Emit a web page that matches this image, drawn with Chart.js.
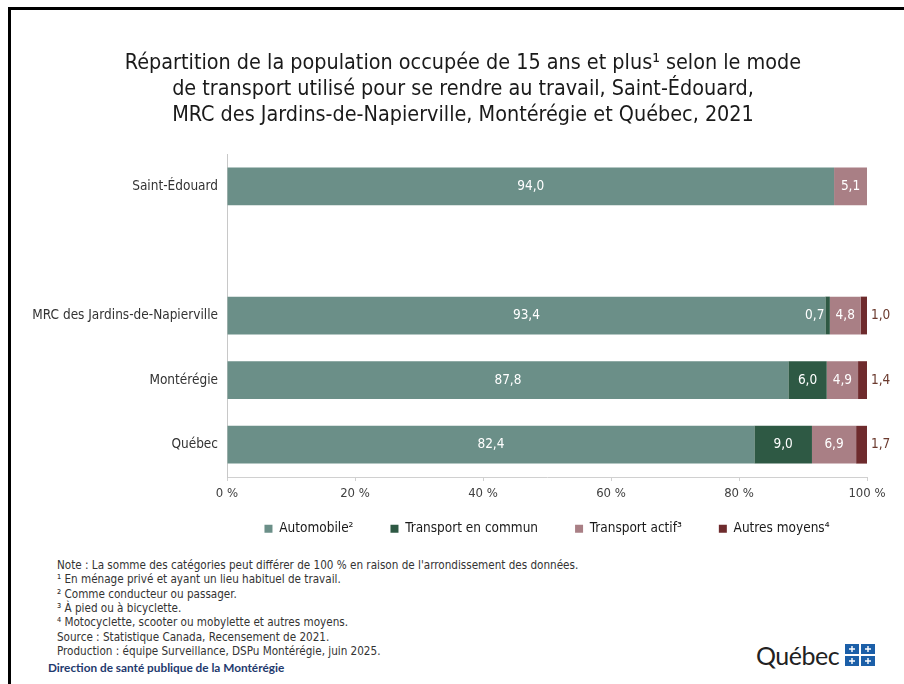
<!DOCTYPE html>
<html>
<head>
<meta charset="utf-8">
<script src="https://cdn.jsdelivr.net/npm/chart.js@4.4.1/dist/chart.umd.min.js"></script>
<style>
  body { margin: 0; width: 904px; height: 684px; background: #fff; overflow: hidden; position: relative; font-family: 'Liberation Sans Narrow', 'DejaVu Sans Condensed', sans-serif; }
  #frame { position: absolute; left: 8px; top: 7px; width: 900px; height: 690px; border-left: 3px solid #000; border-top: 3px solid #000; }
  #wrap { position: absolute; left: 22px; top: 10px; width: 882px; height: 540px; }
  #notes { position: absolute; left: 57px; top: 558px; font-size: 11.6px; line-height: 14.35px; color: #333; }
  #dir { position: absolute; left: 48px; top: 660px; font-family: Lato, 'Open Sans', sans-serif; font-size: 11.8px; color: #1f3a6e; font-weight: bold; }
  #logo { position: absolute; left: 756px; top: 640px; display: flex; align-items: center; }
  #logo span { font-family: Lato, 'Open Sans', sans-serif; font-size: 25px; color: #222; letter-spacing: -0.5px; }
</style>
</head>
<body>
<div id="frame"></div>
<div id="wrap"><canvas id="myChart"></canvas></div>
<div id="notes">
  <div>Note : La somme des catégories peut différer de 100 % en raison de l'arrondissement des données.</div>
  <div>¹ En ménage privé et ayant un lieu habituel de travail.</div>
  <div>² Comme conducteur ou passager.</div>
  <div>³ À pied ou à bicyclette.</div>
  <div>⁴ Motocyclette, scooter ou mobylette et autres moyens.</div>
  <div>Source : Statistique Canada, Recensement de 2021.</div>
  <div>Production : équipe Surveillance, DSPu Montérégie, juin 2025.</div>
</div>
<div id="dir">Direction de santé publique de la Montérégie</div>
<div id="logo">
  <span>Québec</span>
  <svg width="32" height="24" style="margin-left:6px">
    <rect x="0" y="1" width="14" height="10" fill="#1b5fa8"/>
    <rect x="16" y="1" width="14" height="10" fill="#1b5fa8"/>
    <rect x="0" y="13" width="14" height="10" fill="#1b5fa8"/>
    <rect x="16" y="13" width="14" height="10" fill="#1b5fa8"/>
    <path d="M7 3v6M4 6h6M23 3v6M20 6h6M7 15v6M4 18h6M23 15v6M20 18h6" stroke="#fff" stroke-width="1.4"/>
  </svg>
</div>
<script>
const categories = ['Saint-Édouard', '', 'MRC des Jardins-de-Napierville', 'Montérégie', 'Québec'];
const seriesNames = ['Automobile²', 'Transport en commun', 'Transport actif³', 'Autres moyens⁴'];
const automobile = [94.0, null, 93.4, 87.8, 82.4];
const transportCommun = [null, null, 0.7, 6.0, 9.0];
const transportActif = [5.1, null, 4.8, 4.9, 6.9];
const autresMoyens = [null, null, 1.0, 1.4, 1.7];
const xTicks = [0, 20, 40, 60, 80, 100];

const allSeries = [automobile, transportCommun, transportActif, autresMoyens];
const colors = ['#6b8f88', '#2e5944', '#a97f85', '#6e2b2d'];
const fontFamily = '"Liberation Sans Narrow", "DejaVu Sans Condensed", sans-serif';

// graphique à 100 % : chaque barre est ramenée à son total
const totals = categories.map((c, j) => allSeries.reduce((s, arr) => s + (arr[j] || 0), 0));
function toPercent(arr) {
    return arr.map((v, j) => (v == null || totals[j] == 0) ? null : v / totals[j] * 100);
}

function fmt(v) {
    return v.toFixed(1).replace('.', ',');
}

const labelPlugin = {
    id: 'valueLabels',
    afterDatasetsDraw(chart) {
        const ctx = chart.ctx;
        ctx.save();
        ctx.font = '13.5px ' + fontFamily;
        ctx.textBaseline = 'middle';
        chart.data.datasets.forEach((ds, i) => {
            const meta = chart.getDatasetMeta(i);
            allSeries[i].forEach((v, j) => {
                if (v == null) return;
                const bar = meta.data[j];
                const txt = fmt(v);
                if (i == 3) {
                    ctx.fillStyle = '#6b3a2e';
                    ctx.textAlign = 'left';
                    ctx.fillText(txt, bar.x + 4, bar.y);
                    return;
                }
                const w = bar.x - bar.base;
                ctx.fillStyle = '#ffffff';
                if (w < ctx.measureText(txt).width + 4) {
                    ctx.textAlign = 'right';
                    ctx.fillText(txt, bar.base - 1, bar.y);
                } else {
                    ctx.textAlign = 'center';
                    ctx.fillText(txt, (bar.x + bar.base) / 2, bar.y);
                }
            });
        });
        ctx.restore();
    }
};

// légende centrée sous la zone du graphique, titre centré sur la page
const boxShift = {
    id: 'boxShift',
    afterLayout(chart) {
        const lg = chart.legend;
        const dx = (chart.chartArea.left + chart.chartArea.right) / 2 - (lg.left + lg.right) / 2;
        lg.left += dx;
        lg.right += dx;
        const h = lg.bottom - lg.top;
        lg.top = 475;
        lg.bottom = 475 + h;
        const tb = chart.titleBlock;
        const dt = 441 - (tb.left + tb.right) / 2;
        tb.left += dt;
        tb.right += dt;
    }
};

const ctx = document.getElementById('myChart').getContext('2d');
new Chart(ctx, {
    type: 'bar',
    data: {
        labels: categories,
        datasets: allSeries.map((arr, i) => ({
            label: seriesNames[i],
            data: toPercent(arr),
            backgroundColor: colors[i],
            borderWidth: 0,
            barPercentage: 0.9,
            categoryPercentage: 0.65
        }))
    },
    options: {
        indexAxis: 'y',
        responsive: true,
        maintainAspectRatio: false,
        animation: false,
        layout: { padding: { left: 0, right: 37, top: 0, bottom: 0 } },
        scales: {
            x: {
                stacked: true,
                min: 0,
                max: 100,
                afterBuildTicks(scale) { scale.ticks = xTicks.map(v => ({ value: v })); },
                afterFit(scale) { scale.height = 23; },
                grid: { drawOnChartArea: false, drawTicks: true, tickLength: 4, color: '#d0d0d0' },
                border: { color: '#d0d0d0' },
                ticks: {
                    callback: v => v + ' %',
                    color: '#404040',
                    padding: 5,
                    maxRotation: 0,
                    font: { size: 13, family: fontFamily }
                }
            },
            y: {
                stacked: true,
                afterFit(scale) { scale.width = 205; },
                grid: { display: false, drawTicks: false },
                border: { color: '#c8c8c8' },
                ticks: {
                    color: '#333',
                    padding: 9,
                    font: { size: 13.5, family: fontFamily }
                }
            }
        },
        plugins: {
            title: {
                display: true,
                text: [
                    'Répartition de la population occupée de 15 ans et plus¹ selon le mode',
                    'de transport utilisé pour se rendre au travail, Saint-Édouard,',
                    'MRC des Jardins-de-Napierville, Montérégie et Québec, 2021'
                ],
                color: '#1a1a1a',
                font: { size: 21.4, weight: 'normal', lineHeight: 1.2, family: fontFamily },
                padding: { top: 41, bottom: 26 }
            },
            legend: {
                position: 'bottom',
                maxHeight: 50,
                labels: {
                    boxWidth: 8,
                    boxHeight: 8,
                    padding: 37,
                    color: '#1a1a1a',
                    font: { size: 13.5, family: fontFamily }
                }
            },
            tooltip: { enabled: false }
        }
    },
    plugins: [labelPlugin, boxShift]
});
</script>
</body>
</html>
